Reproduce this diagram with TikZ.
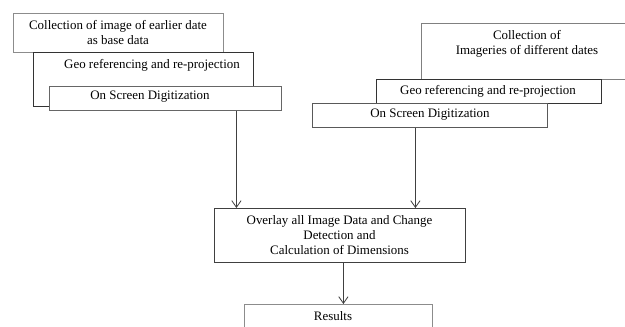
\documentclass[tikz,border=0pt]{standalone}
\usepackage{fontspec}
\setmainfont{Liberation Serif}
\usetikzlibrary{arrows.meta}
\begin{document}
\begin{tikzpicture}[x=0.75pt,y=-0.75pt,
  font=\fontsize{9.7}{11.25}\selectfont,
  box/.style={draw=#1, fill=white, line width=0.65pt, inner sep=0pt, anchor=north west},
  sz/.style 2 args={minimum width=#1*0.75pt, minimum height=#2*0.75pt},
  txt/.style={inner sep=0pt, align=center, text=black},
  arr/.style={draw=black!75, line width=0.6pt, -{Straight Barb[length=5pt,width=7pt]}}]
\clip (0,0) rectangle (625,326);
\fill[white] (0,0) rectangle (625,326);
% left column
\node[box=black!45, sz={210}{39}] (b1) at (13,13) {};
\node[txt] (t1) at (118,32.5) {Collection of image of earlier date\\as base data};
\node[box=black!80, sz={220}{54}] (b2) at (33,52) {};
\node[txt] (t2) at (152,65) {Geo referencing and re-projection};
\node[box=black!60, sz={232}{24}] (b3) at (49,86) {};
\node[txt] (t3) at (150,97) {On Screen Digitization};
% right column
\node[box=black!50, sz={212}{56}] (b4) at (421,23) {};
\node[txt] (t4) at (527,44) {Collection of\\Imageries of different dates};
\node[box=black!80, sz={225}{24}] (b5) at (376,79) {};
\node[txt] (t5) at (488,91) {Geo referencing and re-projection};
\node[box=black!65, sz={235}{24}] (b6) at (312,103) {};
\node[txt] (t6) at (430,115) {On Screen Digitization};
% lower
\node[box=black!75, sz={251}{54}] (b7) at (214,208) {};
\node[txt] (t7) at (339.5,235) {Overlay all Image Data and Change\\Detection and\\Calculation of Dimensions};
\node[box=black!45, sz={188}{30}] (b8) at (244,304) {};
\node[txt] (t8) at (333,316) {Results};
% arrows
\draw[arr] ([xshift=53.25pt]b3.south) -- ([xshift=53.25pt]b3.south |- b7.north);
\draw[arr] ([xshift=-10.9pt]b6.south) -- ([xshift=-10.9pt]b6.south |- b7.north);
\draw[arr] ([xshift=2.6pt]b7.south) -- ([xshift=2.6pt]b7.south |- b8.north);
\end{tikzpicture}
\end{document}
